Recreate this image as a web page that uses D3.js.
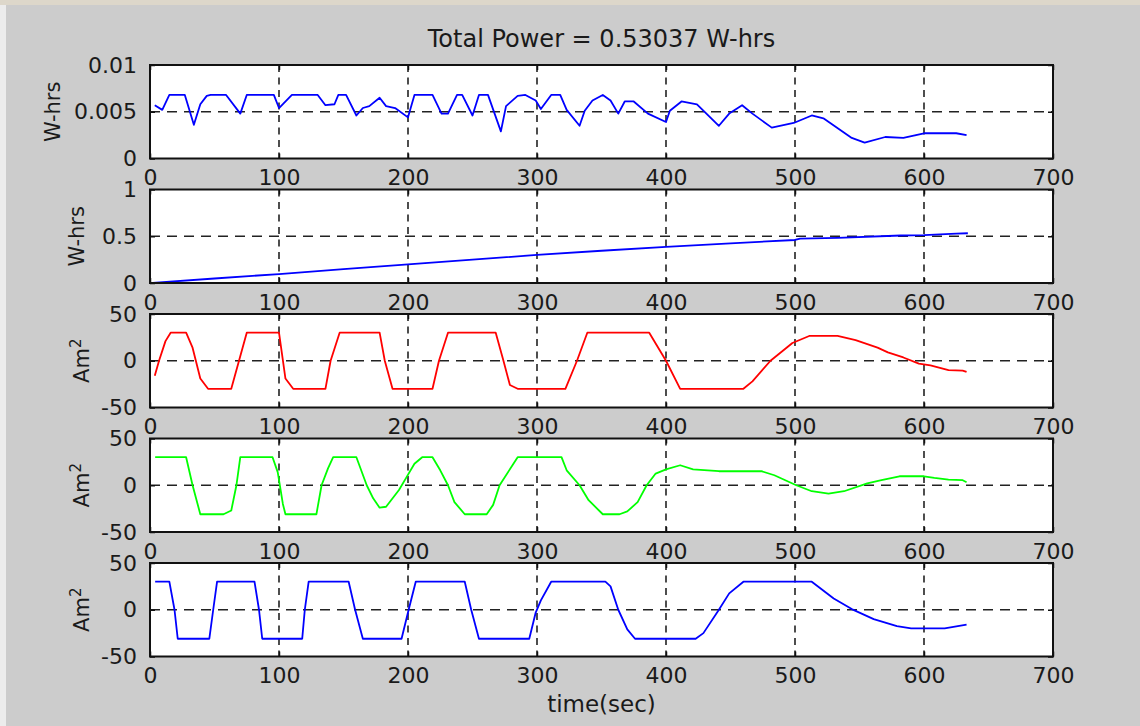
<!DOCTYPE html>
<html>
<head>
<meta charset="utf-8">
<script src="https://cdn.jsdelivr.net/npm/d3@7/dist/d3.min.js"></script>
<style>
  html, body { margin: 0; padding: 0; background: #cccccc; }
  svg { display: block; }
  text { font-family: "DejaVu Sans", sans-serif; fill: #1a1a1a; }
</style>
</head>
<body>
<svg id="chart" width="1140" height="726"></svg>
<script>
// ------------------------------------
// Data: [time (sec), value]
// ------------------------------------
const powerRate = [
  [3.7,0.0057],[9.5,0.0052],[15,0.0068],[27,0.0068],[34,0.0036],[39,0.0058],[44,0.0067],[47,0.0068],
  [59,0.0068],[70,0.0048],[75,0.0068],[96,0.0068],[100,0.0054],[110,0.0068],[130,0.0068],[136,0.0057],
  [143,0.0058],[146,0.0068],[152,0.0068],[160,0.0046],[165,0.0054],[170,0.0056],[178,0.0065],[183,0.0056],
  [190,0.0054],[200,0.0044],[205,0.0068],[219,0.0068],[226,0.0048],[231,0.0048],[238,0.0068],[242,0.0068],
  [250,0.0046],[255,0.0068],[262,0.0068],[272,0.0029],[276,0.0056],[285,0.0067],[291,0.0068],[299,0.0062],
  [303,0.0053],[311,0.0068],[318,0.0068],[323,0.0052],[333,0.0035],[337,0.0051],[343,0.0062],[351,0.0068],
  [357,0.0062],[363,0.0048],[368,0.0061],[375,0.0061],[386,0.0048],[400,0.0039],[403,0.0051],[412,0.0061],
  [424,0.0058],[441,0.0035],[449,0.0048],[459,0.0057],[467,0.0048],[482,0.0033],[499,0.0038],[513,0.0046],
  [522,0.0043],[544,0.0022],[554,0.0017],[570,0.0023],[584,0.0022],[600,0.0027],[625,0.0027],[633,0.0025]
];

const totalEnergy = [
  [2,0.002],[50,0.048],[100,0.096],[150,0.148],[200,0.2],[250,0.25],[300,0.3],[350,0.345],[400,0.387],
  [450,0.424],[500,0.46],[504,0.475],[533,0.482],[582,0.508],[600,0.512],[625,0.527],[634,0.532]
];

const dipoleX = [
  [3.7,-16],[7,0],[12,21],[16,30],[28,30],[33,14],[39,-19],[45,-30],[63,-30],[69,0],[75,30],[100,30],
  [105,-19],[111,-30],[136,-30],[140,0],[147,30],[178,30],[182,0],[188,-30],[219,-30],[224,0],[231,30],
  [268,30],[274,0],[279,-26],[285,-30],[322,-30],[331,0],[339,30],[387,30],[400,0],[411,-30],[460,-30],
  [467,-22],[481,0],[498,19],[511,26.5],[533,26.5],[547,22],[564,14],[572,9],[584,3.5],[596,-3],[605,-5],
  [619,-10],[630,-10.6],[633,-12]
];

const dipoleY = [
  [4,30],[28,30],[33,0],[39,-31],[57,-31],[63,-27],[67,0],[70,30],[95,30],[99,14],[103,-20],[105,-31],
  [129,-31],[133,0],[138,18],[142,30],[160,30],[168,0],[173,-14],[178,-24],[183,-23],[193,-5],[199,9],
  [205,23],[211,30],[219,30],[225,16],[231,0],[236,-18],[244,-31],[261,-31],[266,-21],[271,0],[285,30],
  [319,30],[323,16],[333,0],[340,-16],[351,-31],[364,-31],[370,-28],[378,-18],[385,0],[392,12.5],[400,17],
  [411,21.4],[421,17],[441,15],[474,15],[484,10.7],[501,0],[513,-6.4],[526,-9],[538,-6.4],[556,2],
  [567,5.5],[581,9.6],[600,9.6],[608,7.9],[619,6],[630,5.4],[633,3.2]
];

const dipoleZ = [
  [4,30],[15,30],[19,0],[21.5,-31],[46,-31],[49,0],[52,30],[81,30],[84.5,0],[87,-31],[118,-31],[120,0],
  [123,30],[154,30],[159,0],[165,-31],[195,-31],[200.5,0],[206,30],[244,30],[249,0],[255,-31],[294,-31],
  [299,-3],[303,10],[311,30],[353,30],[357,25],[363,0],[370,-21],[376,-31],[423,-31],[429,-25],[441,0],
  [449,17.5],[460,30],[513,30],[530,12],[544,0.7],[561,-10],[579,-17.5],[590,-20],[616,-20],[633,-16]
];

// tick values
const timeTicks = [0, 100, 200, 300, 400, 500, 600, 700];
const powerTicks = [0, 0.005, 0.01];
const energyTicks = [0, 0.5, 1];
const dipoleTicks = [-50, 0, 50];

const titleText = "Total Power = 0.53037 W-hrs";
const xLabelText = "time(sec)";

// ------------------------------------
// Panels
// ------------------------------------
const panels = [
  { data: powerRate,   color: "#0000ff", ticks: powerTicks,  label: "W-hrs", sup: false, labelX: 60 },
  { data: totalEnergy, color: "#0000ff", ticks: energyTicks, label: "W-hrs", sup: false, labelX: 84 },
  { data: dipoleX,     color: "#ff0000", ticks: dipoleTicks, label: "Am",    sup: true,  labelX: 89 },
  { data: dipoleY,     color: "#00ff00", ticks: dipoleTicks, label: "Am",    sup: true,  labelX: 89 },
  { data: dipoleZ,     color: "#0000ff", ticks: dipoleTicks, label: "Am",    sup: true,  labelX: 89 }
];

const svg = d3.select("#chart");
const W = 1140, H = 726;

// window frame strips
svg.append("rect").attr("x", 0).attr("y", 0).attr("width", W).attr("height", H).attr("fill", "#cccccc");
svg.append("rect").attr("x", 0).attr("y", 0).attr("width", W).attr("height", 5).attr("fill", "#ddd7ca");
svg.append("rect").attr("x", 0).attr("y", 5).attr("width", 6).attr("height", H - 5).attr("fill", "#ececec");

const left = 150, right = 1053;
const firstTop = 65, step = 124.5, panelH = 93.5;

const x = d3.scaleLinear().domain([0, 700]).range([left, right]);

panels.forEach((p, i) => {
  const top = firstTop + i * step;
  const bottom = top + panelH;
  const y = d3.scaleLinear().domain(d3.extent(p.ticks)).range([bottom, top]);

  const g = svg.append("g");

  g.append("rect")
    .attr("x", left).attr("y", top)
    .attr("width", right - left).attr("height", panelH)
    .attr("fill", "#ffffff");

  // grid
  g.selectAll(".vgrid")
    .data(timeTicks.slice(1, -1))
    .join("line")
    .attr("x1", d => x(d)).attr("x2", d => x(d))
    .attr("y1", top).attr("y2", bottom)
    .attr("stroke", "#222").attr("stroke-width", 1.6)
    .attr("stroke-dasharray", "7,5.5");

  g.selectAll(".hgrid")
    .data(p.ticks.slice(1, -1))
    .join("line")
    .attr("x1", left).attr("x2", right)
    .attr("y1", d => y(d)).attr("y2", d => y(d))
    .attr("stroke", "#222").attr("stroke-width", 1.6)
    .attr("stroke-dasharray", "10,7");

  // data line
  const line = d3.line().x(d => x(d[0])).y(d => y(d[1]));
  g.append("path")
    .datum(p.data)
    .attr("fill", "none")
    .attr("stroke", p.color)
    .attr("stroke-width", 1.8)
    .attr("stroke-linejoin", "round")
    .attr("d", line);

  // axes (ticks point inward)
  g.append("g")
    .attr("transform", `translate(0,${bottom})`)
    .call(d3.axisBottom(x).tickValues(timeTicks).tickSizeInner(-5).tickSizeOuter(0).tickPadding(11));
  g.append("g")
    .attr("transform", `translate(0,${top})`)
    .call(d3.axisTop(x).tickValues(timeTicks).tickSizeInner(-5).tickSizeOuter(0).tickFormat(""));
  g.append("g")
    .attr("transform", `translate(${left},0)`)
    .call(d3.axisLeft(y).tickValues(p.ticks).tickSizeInner(-5).tickSizeOuter(0).tickPadding(13)
      .tickFormat(d => String(d)));
  g.append("g")
    .attr("transform", `translate(${right},0)`)
    .call(d3.axisRight(y).tickValues(p.ticks).tickSizeInner(-5).tickSizeOuter(0).tickFormat(""));

  g.selectAll(".domain").remove();
  g.selectAll(".tick line").attr("stroke", "#111").attr("stroke-width", 1.5);
  g.selectAll(".tick text")
    .attr("fill", "#1a1a1a")
    .style("font-family", "'DejaVu Sans', sans-serif")
    .style("font-size", "22px");

  // frame
  g.append("rect")
    .attr("x", left).attr("y", top)
    .attr("width", right - left).attr("height", panelH)
    .attr("fill", "none")
    .attr("stroke", "#111").attr("stroke-width", 2);

  // y label
  const t = g.append("text")
    .attr("transform", `translate(${p.labelX},${(top + bottom) / 2}) rotate(-90)`)
    .attr("text-anchor", "middle")
    .style("font-size", "21px")
    .text(p.label);
  if (p.sup) {
    t.append("tspan").attr("dy", "-0.55em").style("font-size", "15px").text("2");
  }
});

// title
svg.append("text")
  .attr("x", (left + right) / 2)
  .attr("y", 47)
  .attr("text-anchor", "middle")
  .style("font-size", "24px")
  .text(titleText);

// x label
svg.append("text")
  .attr("x", (left + right) / 2)
  .attr("y", 712)
  .attr("text-anchor", "middle")
  .style("font-size", "23px")
  .text(xLabelText);
</script>
</body>
</html>
